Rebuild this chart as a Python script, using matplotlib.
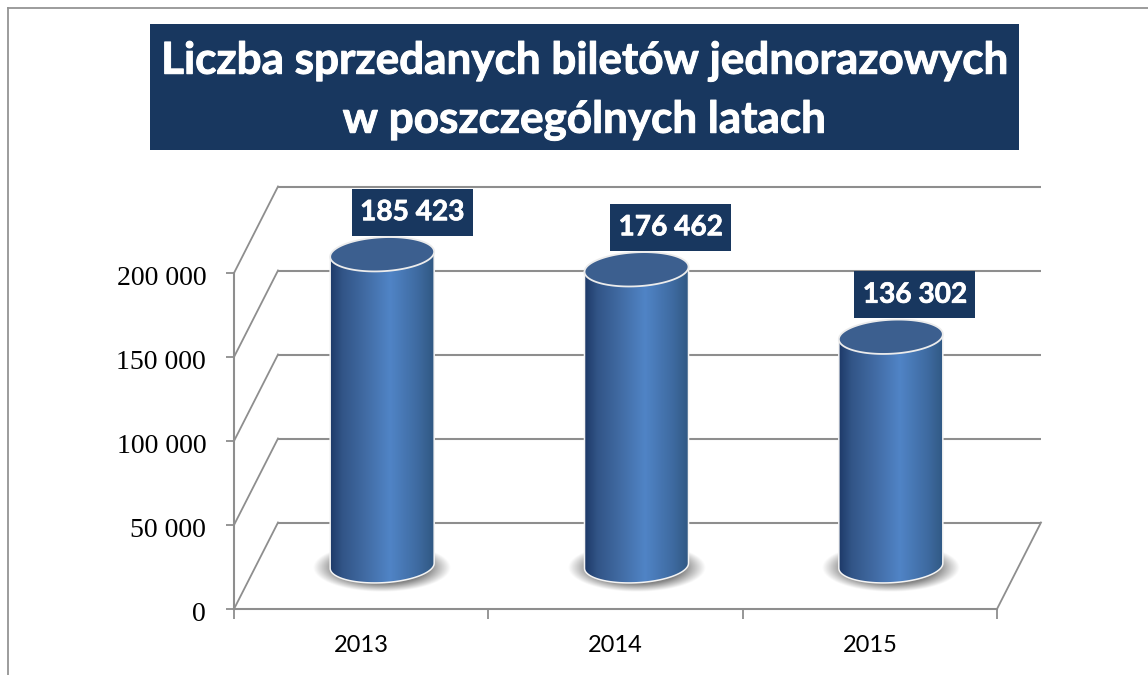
import numpy as np
import matplotlib
matplotlib.use("Agg")
import matplotlib.pyplot as plt
import matplotlib.patheffects as pe
from matplotlib.lines import Line2D
from matplotlib.patches import Rectangle, Polygon
from matplotlib.transforms import ScaledTranslation

# dane
lata = ["2013", "2014", "2015"]
bilety = [185423, 176462, 136302]
y_ticks = [0, 50000, 100000, 150000, 200000]
y_tick_labels = ["0", "50 000", "100 000", "150 000", "200 000"]
tytul = ["Liczba sprzedanych biletów jednorazowych", "w poszczególnych latach"]

W, H = 1148, 675
NAVY = "#18375f"
GRID = "#8e8e8e"

fig = plt.figure(figsize=(W / 100, H / 100), dpi=100, facecolor="white")

# os: 0 na y=609 px, 200 000 na y=273 px, kategorie od x=234 do x=997 px
ax = fig.add_axes([234 / W, (H - 609) / H, (997 - 234) / W, (609 - 273) / H])
ax.set_xlim(0, 3)
ax.set_ylim(0, 200000)
ax.patch.set_alpha(0)

PX = 3 / (997 - 234)      # jeden piksel w jednostkach x
PY = 200000 / (609 - 273)  # jeden piksel w jednostkach y
depth_x = 44 * PX
depth_y = 86.5 * PY

# ramka strony (tylko lewa i gorna krawedz widoczna)
fig.add_artist(Line2D([8 / W, 8 / W], [0, 1 - 8 / H], color="#949494", lw=1.3))
fig.add_artist(Line2D([8 / W, 1], [1 - 8 / H, 1 - 8 / H], color="#949494", lw=1.3))

# tlo tytulu i tytul
bold = [pe.withStroke(linewidth=0.7, foreground="white")]
fig.add_artist(Rectangle((150 / W, 1 - 150 / H), (1019 - 150) / W, 126 / H,
                         transform=fig.transFigure, facecolor=NAVY, edgecolor="none"))
fig.text(584 / W, 1 - 61 / H, tytul[0], color="white", fontsize=31.7, fontweight="bold",
         family="Lato", ha="center", va="center", path_effects=bold)
fig.text(584 / W, 1 - 120 / H, tytul[1], color="white", fontsize=31.7, fontweight="bold",
         family="Lato", ha="center", va="center", path_effects=bold)

# siatka 3D: przekatne sciany bocznej i linie tylnej sciany
for v in y_ticks:
    ax.plot([depth_x, 3 + depth_x], [v + depth_y, v + depth_y], color=GRID, lw=1.5,
            clip_on=False, zorder=1, solid_capstyle="butt")
    ax.plot([0, depth_x], [v, v + depth_y], color=GRID, lw=1.3, clip_on=False, zorder=1)
ax.plot([3, 3 + depth_x], [0, depth_y], color=GRID, lw=1.3, clip_on=False, zorder=1)

# gradient walca: ciemne brzegi, jasny srodek
stops = np.array([0.0, 0.12, 0.35, 0.58, 0.85, 1.0])
r = np.array([30, 50, 66, 80, 62, 48])
g = np.array([58, 85, 108, 132, 106, 88])
b = np.array([105, 135, 165, 198, 160, 130])
t = np.linspace(0, 1, 200)
grad = np.dstack([np.interp(t, stops, r), np.interp(t, stops, g), np.interp(t, stops, b)]) / 255

# cien: rozmyta elipsa pod walcem
sx, sy = np.meshgrid(np.linspace(-1, 1, 200), np.linspace(-1, 1, 100))
rr = np.sqrt(sx ** 2 + sy ** 2)
shadow = np.zeros((100, 200, 4))
shadow[..., :3] = 0.5
shadow[..., 3] = np.clip((1 - rr) / 0.32, 0, 1) * 0.95

a_px, b_px, tilt_px = 52, 17, 2.5
tt = np.linspace(0, 2 * np.pi, 121)

for i, (rok, v) in enumerate(zip(lata, bilety)):
    cx = i + 0.5 + depth_x / 2 - 1 * PX
    cy0 = depth_y / 2

    ax.imshow(shadow, extent=[cx - 69 * PX, cx + 69 * PX, cy0 - 26 * PY, cy0 + 23 * PY],
              aspect="auto", zorder=2, origin="lower", clip_on=False)

    ex = a_px * PX * np.cos(tt)
    ey = (b_px * np.sin(tt) + tilt_px * np.cos(tt)) * PY

    # bok walca: dolna polowa elipsy + gorna krawedz
    low = (tt >= np.pi) & (tt <= 2 * np.pi)
    body = np.vstack([np.column_stack([cx + ex[low], cy0 + ey[low]]),
                      [[cx + a_px * PX, v + cy0 + tilt_px * PY]],
                      [[cx - a_px * PX, v + cy0 - tilt_px * PY]]])
    ax.add_patch(Polygon(body, closed=True, facecolor="none", edgecolor="#f4f4f4", lw=1.1,
                         clip_on=False, zorder=3.2))
    im = ax.imshow(grad, extent=[cx - a_px * PX, cx + a_px * PX, 0, v + cy0 + 20 * PY],
                   aspect="auto", zorder=3, interpolation="bilinear")
    im.set_clip_box(fig.bbox)
    im.set_clip_path(Polygon(body, closed=True, transform=ax.transData))

    # gorna elipsa
    top = np.column_stack([cx + ex, v + cy0 + ey])
    ax.add_patch(Polygon(top, closed=True, facecolor="#3c5f8f", edgecolor="#ececec", lw=1.3,
                         clip_on=False, zorder=4))

    # etykieta wartosci
    lx = cx + [30, 34, 24][i] * PX
    ly = v + cy0 + 42 * PY
    ax.add_patch(Rectangle((lx - 60.5 * PX, ly - 23.5 * PY), 121 * PX, 47 * PY, facecolor=NAVY,
                           edgecolor="none", clip_on=False, zorder=5))
    ax.text(lx, ly, f"{v:,}".replace(",", " "), color="white", fontsize=20.2, fontweight="bold",
            family="Lato", ha="center", va="center", zorder=6, clip_on=False,
            path_effects=[pe.withStroke(linewidth=0.5, foreground="white")])

ax.set_xlim(0, 3)
ax.set_ylim(0, 200000)

# osie
for s in ["top", "right"]:
    ax.spines[s].set_visible(False)
for s in ["left", "bottom"]:
    ax.spines[s].set_color(GRID)
    ax.spines[s].set_linewidth(1.5)
ax.set_yticks(y_ticks)
ax.set_yticklabels(y_tick_labels, family="Liberation Serif", fontsize=20)
ax.tick_params(axis="y", length=6, width=1.3, color=GRID, pad=14)
ax.set_xticks([0, 1, 2, 3])
ax.set_xticklabels([])
ax.tick_params(axis="x", which="major", length=7, width=1.3, color=GRID)
ax.set_xticks([0.5, 1.5, 2.5], minor=True)
ax.set_xticklabels(lata, minor=True, family="Lato", fontsize=17)
ax.tick_params(axis="x", which="minor", length=0, pad=19)

# etykiety osi y lekko w dol
for lab in ax.get_yticklabels():
    lab.set_transform(lab.get_transform() + ScaledTranslation(0, -1.5 / 72, fig.dpi_scale_trans))

fig.savefig("out.png", dpi=100)
